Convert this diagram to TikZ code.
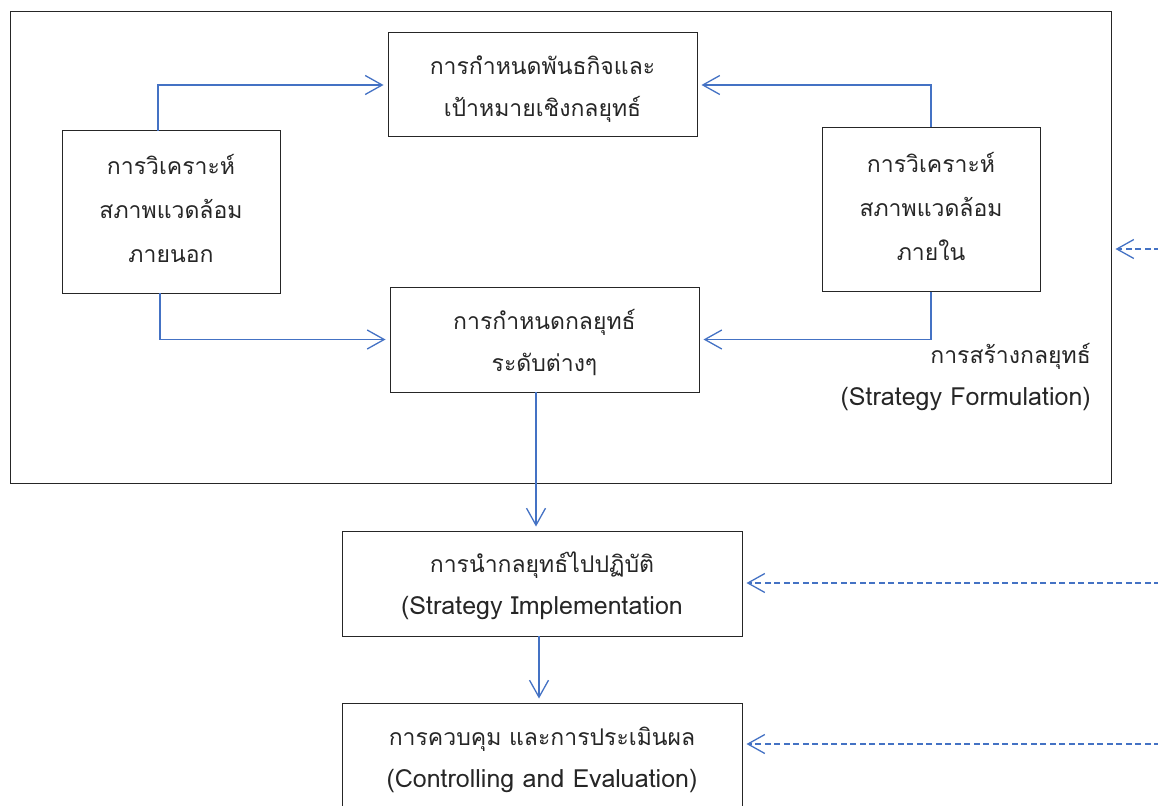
\documentclass[tikz,border=0pt]{standalone}
\usepackage{fontspec}
\setmainfont[Script=Thai]{Loma}
\usetikzlibrary{arrows.meta}
\definecolor{lineblue}{RGB}{68,114,196}
\newcommand{\lat}{\fontsize{25}{42}\selectfont}
\tikzset{
  box/.style={draw=black!85, line width=1pt, rectangle, align=center, text=black!85, inner sep=0pt},
  two/.style={font=\fontsize{23}{42}\selectfont},
  three/.style={font=\fontsize{23}{44}\selectfont},
  txt/.style={align=center, text=black!85, inner sep=0pt},
  conn/.style={draw=lineblue, line width=1.3pt, -{Straight Barb[length=17pt,width=19pt,line width=1.3pt]}, shorten >=4pt},
  dconn/.style={conn, dash pattern=on 6pt off 3.5pt},
  lbl/.style={align=right, text=black!85, inner sep=0pt}
}
\begin{document}
\begin{tikzpicture}[x=1pt,y=-1pt]
\useasboundingbox (0,0) rectangle (1158,805);
% outer frame
\node[draw=black!85, line width=1pt, minimum width=1101pt, minimum height=471pt, inner sep=0pt] (frame) at (560.5,247.5) {};
\node[box, minimum width=309pt, minimum height=104pt] (top) at (542.5,85) {};
\node[txt, two] (toptxt) at (542.5,89) {การกำหนดพันธกิจและ\\เป้าหมายเชิงกลยุทธ์};
\node[box, minimum width=218pt, minimum height=162pt] (left) at (171,212) {};
\node[txt, three] (lefttxt) at (171,208) {การวิเคราะห์\\สภาพแวดล้อม\\ภายนอก};
\node[box, minimum width=218pt, minimum height=163pt] (right) at (931,209.5) {};
\node[txt, three] (righttxt) at (931,206) {การวิเคราะห์\\สภาพแวดล้อม\\ภายใน};
\node[box, minimum width=309pt, minimum height=105pt] (mid) at (544.5,339.5) {};
\node[txt, two] (midtxt) at (544.5,343) {การกำหนดกลยุทธ์\\ระดับต่างๆ};
\node[box, minimum width=400pt, minimum height=105pt] (impl) at (542,583.5) {};
\node[txt, two] (impltxt) at (542,586) {การนำกลยุทธ์ไปปฏิบัติ\\{\lat (Strategy Implementation}};
\node[box, minimum width=400pt, minimum height=124pt] (ctrl) at (542,765) {};
\node[txt, two] (ctrltxt) at (542,760) {การควบคุม และการประเมินผล\\{\lat (Controlling and Evaluation)}};
\node[lbl, two, anchor=east] (form) at (1091,377) {การสร้างกลยุทธ์\\{\lat (Strategy Formulation)}};
% connectors
\coordinate (lt) at (158,131);
\coordinate (lb) at (160,293);
\coordinate (ms) at (536,392);
\coordinate (is) at (539,636);
\draw[conn] (lt) |- (top.west);
\draw[conn] (right.north) |- (top.east);
\draw[conn] (lb) |- (mid.west);
\draw[conn] (right.south) |- (mid.east);
\draw[conn] (ms) -- (ms |- impl.north);
\draw[conn] (is) -- (is |- ctrl.north);
% dashed feedback
\coordinate (d1) at (1160,249);
\coordinate (d2) at (1160,583);
\coordinate (d3) at (1160,744);
\draw[dconn] (d1) -- (d1 -| frame.east);
\draw[dconn] (d2) -- (d2 -| impl.east);
\draw[dconn] (d3) -- (d3 -| ctrl.east);
\end{tikzpicture}
\end{document}
